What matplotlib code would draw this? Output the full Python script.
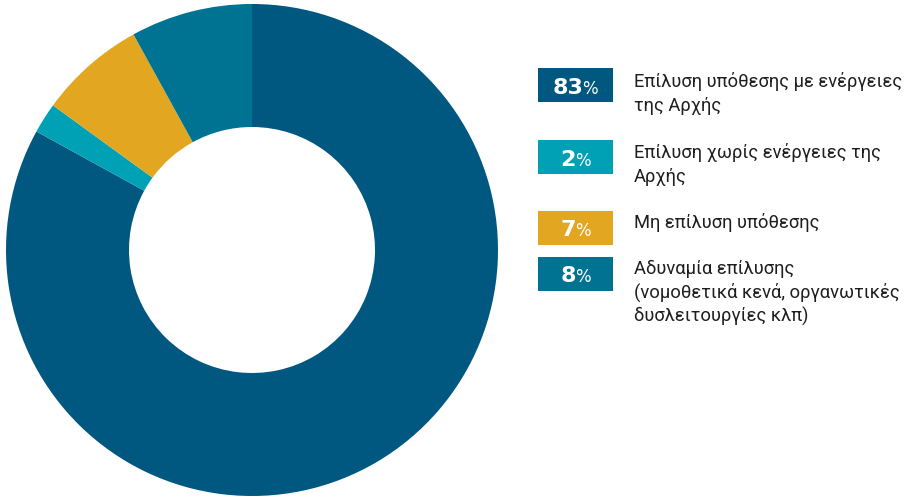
import matplotlib
matplotlib.use("Agg")
import matplotlib.pyplot as plt
from matplotlib.patches import Rectangle

labels = ["Επίλυση υπόθεσης με ενέργειες\nτης Αρχής",
          "Επίλυση χωρίς ενέργειες της\nΑρχής",
          "Μη επίλυση υπόθεσης",
          "Αδυναμία επίλυσης\n(νομοθετικά κενά, οργανωτικές\nδυσλειτουργίες κλπ)"]
values = [83, 2, 7, 8]
colors = ["#005780", "#00A0B5", "#E2A620", "#007393"]

W, H = 912, 497
fig = plt.figure(figsize=(W / 100, H / 100), dpi=100)
plt.rcParams['font.family'] = ['Roboto', 'DejaVu Sans']

cx, cy, r = 252, 250, 246
ax = fig.add_axes([(cx - r) / W, (H - cy - r) / H, 2 * r / W, 2 * r / H])
ax.pie(values, colors=colors, startangle=90, counterclock=False,
       wedgeprops=dict(width=0.5, edgecolor="none"), radius=1)
ax.set_xlim(-1, 1)
ax.set_ylim(-1, 1)
ax.set_aspect("equal")

lax = fig.add_axes([0, 0, 1, 1])
lax.set_xlim(0, W)
lax.set_ylim(H, 0)
lax.axis("off")

box_tops = [68, 140, 211, 257]
baselines = [87, 158, 228, 274]
box_h = 34
box_x0, box_x1 = 538, 613
text_x = 634
line_h = 24

fig.canvas.draw()
renderer = fig.canvas.get_renderer()

for top, bl, val, col, lab in zip(box_tops, baselines, values, colors, labels):
    lax.add_patch(Rectangle((box_x0, top), box_x1 - box_x0, box_h, color=col, lw=0))
    yb = top + box_h / 2 + 8.5
    t1 = lax.text(0, yb, str(val), color="white", fontsize=16, fontweight="bold",
                  ha="left", va="baseline", family=["DejaVu Sans"])
    t2 = lax.text(0, yb, "%", color="white", fontsize=12, fontweight="medium",
                  ha="left", va="baseline", family=["DejaVu Sans"])
    w1 = t1.get_window_extent(renderer).width
    w2 = t2.get_window_extent(renderer).width
    gap = -1
    total = w1 + w2 + gap
    start = (box_x0 + box_x1) / 2 - total / 2
    t1.set_x(start)
    t2.set_x(start + w1 + gap)
    for i, line in enumerate(lab.split("\n")):
        lax.text(text_x, bl + i * line_h, line, fontsize=13.2, color="#1e1e1e",
                 ha="left", va="baseline")

fig.savefig("out.png", dpi=100)
